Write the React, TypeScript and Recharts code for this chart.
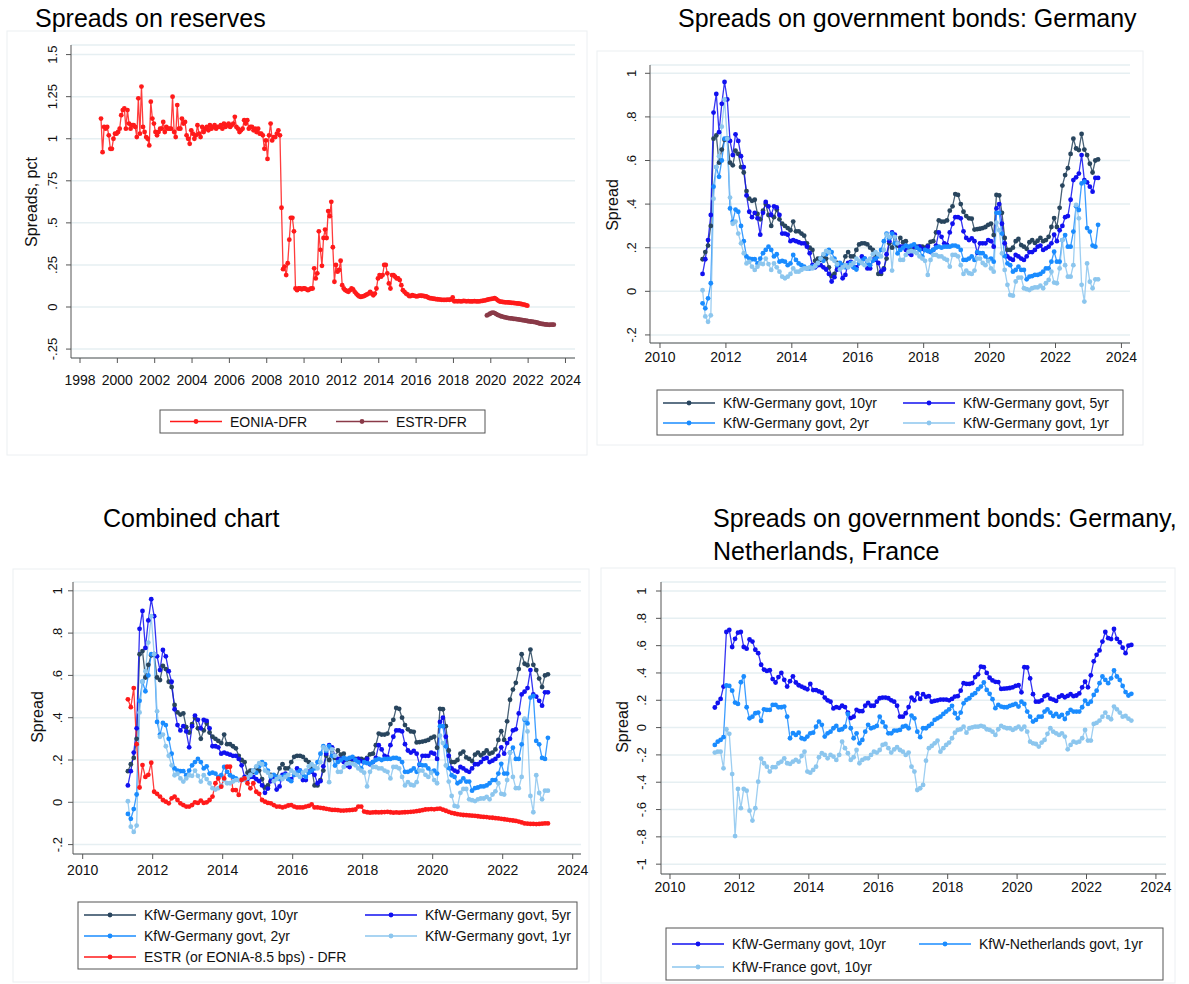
import { LineChart, Line, XAxis, YAxis, CartesianGrid } from "recharts";

const W = 1189;
const H = 984;
const FONT = '"Liberation Sans", Arial, Helvetica, sans-serif';

const COLORS = {
  eonia: "#ff1a1a",
  estr: "#8a3a48",
  y10: "#28455e",
  y5: "#1010f0",
  y2: "#1a8cff",
  y1: "#8cc6ee",
};

// monthly observations, placed mid-month
const EONIA_START = 1999 + 1.5 / 12;
const ESTR_START = 2019 + 9.5 / 12;
const BOND_START = 2011 + 3.5 / 12;

const YEARS_FROM_1998 = [1998, 2000, 2002, 2004, 2006, 2008, 2010, 2012, 2014, 2016, 2018, 2020, 2022, 2024];
const YEARS_FROM_2010 = [2010, 2012, 2014, 2016, 2018, 2020, 2022, 2024];
const RESERVE_TICKS = [-0.25, 0, 0.25, 0.5, 0.75, 1, 1.25, 1.5];
const SPREAD_TICKS = [-0.2, 0, 0.2, 0.4, 0.6, 0.8, 1];
const WIDE_TICKS = [-1, -0.8, -0.6, -0.4, -0.2, 0, 0.2, 0.4, 0.6, 0.8, 1];

// EONIA - DFR, Feb 1999 .. Dec 2021
const EONIA_DFR = [
  1.12, 0.92, 1.07, 1.06, 1.07, 1.02, 0.94, 0.94, 1.0, 1.03, 1.03, 1.04,
  1.06, 1.14, 1.17, 1.18, 1.06, 1.17, 1.09, 1.06, 1.08, 1.08, 1.07, 1.01,
  1.24, 1.03, 1.31, 1.07, 1.04, 1.01, 1.0, 0.96, 1.22, 1.12, 1.09, 1.04,
  1.02, 1.04, 1.06, 1.06, 1.1, 1.04, 1.07, 1.06, 1.06, 1.06, 1.25, 1.04,
  1.01, 1.2, 1.06, 1.06, 1.12, 1.09, 1.1, 1.02, 1.0, 0.97, 1.05, 1.03,
  1.0, 1.02, 1.08, 1.03, 1.01, 1.07, 1.04, 1.06, 1.07, 1.05, 1.08, 1.06,
  1.07, 1.08, 1.06, 1.07, 1.07, 1.08, 1.06, 1.09, 1.07, 1.08, 1.09, 1.07,
  1.08, 1.09, 1.13, 1.07, 1.06, 1.04, 1.05, 1.06, 1.11, 1.09, 1.11, 1.06,
  1.07, 1.07, 1.05, 1.06, 1.04, 1.06, 1.03, 1.03, 1.02, 0.94, 0.99, 0.88,
  1.02, 1.09, 0.99, 1.01, 1.01, 1.03, 1.05, 1.02, 0.59, 0.225, 0.24, 0.19,
  0.26, 0.4, 0.53, 0.53, 0.45, 0.11, 0.1, 0.11, 0.11, 0.105, 0.11, 0.11,
  0.105, 0.1, 0.105, 0.11, 0.11, 0.23, 0.17, 0.2, 0.45, 0.34, 0.245, 0.41,
  0.46, 0.41, 0.57, 0.54, 0.625, 0.355, 0.15, 0.25, 0.21, 0.22, 0.275, 0.13,
  0.11, 0.1, 0.095, 0.09, 0.1, 0.11, 0.105, 0.09, 0.08, 0.07, 0.063, 0.06,
  0.063, 0.065, 0.07, 0.075, 0.08, 0.09, 0.08, 0.07, 0.08, 0.11, 0.17, 0.19,
  0.18, 0.19, 0.25, 0.25, 0.2, 0.14, 0.11, 0.19, 0.19, 0.18, 0.17, 0.17,
  0.16, 0.13, 0.1, 0.09, 0.08, 0.075, 0.065, 0.065, 0.07, 0.068, 0.065, 0.063,
  0.066, 0.068, 0.067, 0.066, 0.064, 0.063, 0.058, 0.053, 0.052, 0.05, 0.049, 0.047,
  0.046, 0.045, 0.044, 0.043, 0.043, 0.042, 0.043, 0.044, 0.043, 0.045, 0.057, 0.034,
  0.035, 0.034, 0.035, 0.034, 0.034, 0.036, 0.035, 0.034, 0.035, 0.034, 0.033, 0.034,
  0.035, 0.034, 0.033, 0.034, 0.035, 0.036, 0.038, 0.04, 0.042, 0.045, 0.047, 0.048,
  0.05, 0.053, 0.047, 0.04, 0.034, 0.032, 0.03, 0.029, 0.028, 0.028, 0.027, 0.026,
  0.025, 0.024, 0.023, 0.022, 0.021, 0.02, 0.018, 0.016, 0.014, 0.011, 0.008,
];

// ESTR - DFR, Oct 2019 .. May 2023
const ESTR_DFR = [
  -0.05, -0.045, -0.04, -0.035, -0.033, -0.036, -0.042, -0.047, -0.051, -0.055, -0.057, -0.06,
  -0.062, -0.064, -0.066, -0.067, -0.068, -0.07, -0.07, -0.072, -0.073, -0.075, -0.077, -0.078,
  -0.08, -0.081, -0.083, -0.085, -0.086, -0.087, -0.088, -0.09, -0.092, -0.095, -0.098, -0.1,
  -0.101, -0.103, -0.104, -0.105, -0.106, -0.105, -0.105, -0.105,
];

// KfW - Germany govt spreads, Apr 2011 .. Apr 2023
const KFW_10Y = [
  0.147, 0.18, 0.21, 0.3, 0.7, 0.715, 0.59, 0.65, 0.695, 0.7, 0.59, 0.578,
  0.645, 0.63, 0.57, 0.545, 0.46, 0.425, 0.415, 0.42, 0.355, 0.33, 0.37, 0.4,
  0.35, 0.3, 0.34, 0.375, 0.33, 0.31, 0.3, 0.29, 0.28, 0.32, 0.275, 0.275,
  0.265, 0.255, 0.22, 0.2, 0.19, 0.14, 0.15, 0.145, 0.16, 0.15, 0.11, 0.07,
  0.08, 0.13, 0.12, 0.12, 0.16, 0.18, 0.16, 0.16, 0.19, 0.215, 0.22, 0.22,
  0.215, 0.2, 0.19, 0.16, 0.08, 0.08, 0.105, 0.15, 0.22, 0.2, 0.25, 0.21,
  0.245, 0.225, 0.23, 0.19, 0.195, 0.2, 0.205, 0.205, 0.205, 0.2, 0.21, 0.227,
  0.23, 0.27, 0.325, 0.32, 0.32, 0.325, 0.37, 0.39, 0.446, 0.442, 0.4, 0.365,
  0.345, 0.335, 0.333, 0.283, 0.285, 0.287, 0.29, 0.295, 0.305, 0.31, 0.258, 0.442,
  0.44, 0.36, 0.245, 0.19, 0.19, 0.2, 0.23, 0.24, 0.212, 0.205, 0.195, 0.225,
  0.235, 0.222, 0.232, 0.245, 0.23, 0.235, 0.25, 0.295, 0.336, 0.295, 0.383, 0.485,
  0.533, 0.565, 0.63, 0.7, 0.655, 0.648, 0.722, 0.65, 0.625, 0.585, 0.545, 0.6,
  0.605,
];
const KFW_5Y = [
  0.08, 0.147, 0.235, 0.35, 0.82, 0.905, 0.73, 0.86, 0.96, 0.88, 0.69, 0.625,
  0.72, 0.69, 0.62, 0.57, 0.44, 0.365, 0.34, 0.36, 0.335, 0.26, 0.36, 0.41,
  0.39, 0.35, 0.39, 0.385, 0.35, 0.265, 0.265, 0.26, 0.23, 0.235, 0.23, 0.225,
  0.22, 0.22, 0.205, 0.175, 0.12, 0.11, 0.12, 0.12, 0.11, 0.1, 0.08, 0.045,
  0.065, 0.1, 0.11, 0.06, 0.075, 0.13, 0.135, 0.11, 0.11, 0.13, 0.16, 0.15,
  0.105, 0.105, 0.145, 0.145, 0.13, 0.09, 0.1, 0.17, 0.23, 0.27, 0.26, 0.22,
  0.205, 0.205, 0.19, 0.175, 0.167, 0.205, 0.2, 0.205, 0.195, 0.19, 0.205, 0.18,
  0.19, 0.21, 0.27, 0.25, 0.22, 0.213, 0.27, 0.31, 0.34, 0.34, 0.335, 0.275,
  0.245, 0.235, 0.243, 0.23, 0.177, 0.22, 0.22, 0.22, 0.235, 0.23, 0.205, 0.38,
  0.4, 0.31, 0.22, 0.16, 0.15, 0.144, 0.167, 0.16, 0.15, 0.144, 0.16, 0.18,
  0.18, 0.19, 0.205, 0.21, 0.19, 0.197, 0.205, 0.22, 0.26, 0.23, 0.28, 0.3,
  0.34, 0.345, 0.42, 0.51, 0.523, 0.54, 0.625, 0.51, 0.5, 0.48, 0.457, 0.52,
  0.52,
];
const KFW_2Y = [
  -0.055, -0.078, -0.032, 0.037, 0.48, 0.57, 0.525, 0.6, 0.7, 0.7, 0.38, 0.32,
  0.375, 0.365, 0.3, 0.23, 0.16, 0.15, 0.147, 0.147, 0.128, 0.15, 0.175, 0.19,
  0.205, 0.19, 0.16, 0.17, 0.136, 0.14, 0.136, 0.12, 0.128, 0.167, 0.144, 0.128,
  0.12, 0.113, 0.105, 0.105, 0.113, 0.116, 0.128, 0.15, 0.14, 0.17, 0.19, 0.18,
  0.15, 0.12, 0.13, 0.12, 0.11, 0.12, 0.13, 0.11, 0.1, 0.13, 0.14, 0.15,
  0.13, 0.12, 0.14, 0.15, 0.16, 0.19, 0.23, 0.265, 0.243, 0.265, 0.22, 0.174,
  0.19, 0.2, 0.21, 0.205, 0.21, 0.215, 0.2, 0.19, 0.16, 0.19, 0.185, 0.182,
  0.19, 0.2, 0.205, 0.2, 0.205, 0.205, 0.205, 0.21, 0.21, 0.205, 0.19, 0.144,
  0.144, 0.15, 0.16, 0.144, 0.18, 0.175, 0.175, 0.16, 0.144, 0.15, 0.136, 0.36,
  0.36, 0.265, 0.162, 0.128, 0.12, 0.09, 0.098, 0.113, 0.098, 0.098, 0.055, 0.067,
  0.07, 0.075, 0.075, 0.08, 0.09, 0.105, 0.105, 0.136, 0.182, 0.136, 0.136, 0.235,
  0.258, 0.205, 0.205, 0.274, 0.39, 0.373, 0.495, 0.503, 0.29, 0.274, 0.21, 0.205,
  0.305,
];
const KFW_1Y = [
  0.005, -0.115, -0.14, -0.11, 0.425, 0.57, 0.62, 0.755, 0.88, 0.7, 0.43, 0.31,
  0.32, 0.265, 0.22, 0.175, 0.128, 0.135, 0.113, 0.098, 0.113, 0.128, 0.125, 0.15,
  0.125, 0.098, 0.128, 0.11, 0.09, 0.067, 0.06, 0.067, 0.08, 0.105, 0.09, 0.09,
  0.098, 0.105, 0.105, 0.11, 0.105, 0.115, 0.13, 0.15, 0.17, 0.185, 0.18, 0.15,
  0.14, 0.125, 0.1, 0.11, 0.12, 0.11, 0.12, 0.13, 0.15, 0.14, 0.13, 0.12,
  0.14, 0.15, 0.17, 0.18, 0.17, 0.16, 0.19, 0.26, 0.25, 0.095, 0.25, 0.22,
  0.144, 0.144, 0.167, 0.182, 0.185, 0.182, 0.175, 0.16, 0.15, 0.14, 0.075, 0.144,
  0.167, 0.167, 0.16, 0.16, 0.15, 0.144, 0.113, 0.167, 0.167, 0.16, 0.12, 0.08,
  0.095, 0.083, 0.08, 0.095, 0.15, 0.15, 0.13, 0.12, 0.14, 0.105, 0.09, 0.315,
  0.28, 0.174, 0.098, 0.03, -0.017, -0.02, 0.045, 0.063, 0.063, 0.014, 0.01, 0.006,
  0.014, 0.018, 0.018, 0.026, 0.014, 0.037, 0.052, 0.09, 0.04, 0.037, 0.105, 0.235,
  0.12, 0.067, 0.067, 0.12, 0.396, 0.335, 0.03, -0.047, 0.128, 0.044, 0.014, 0.055,
  0.055,
];

// KfW - Netherlands govt 1yr and KfW - France govt 10yr, Apr 2011 .. Apr 2023
const KFW_NL_1Y = [
  -0.127, -0.103, -0.09, -0.07, 0.308, 0.305, 0.27, 0.183, 0.173, 0.332, 0.374, 0.149,
  0.068, 0.08, 0.105, 0.11, 0.049, 0.134, 0.129, 0.129, 0.166, 0.166, 0.149, 0.149,
  0.154, 0.08, -0.078, -0.04, -0.054, -0.037, -0.078, -0.085, -0.066, -0.042, -0.037, 0.007,
  0.044, 0.02, -0.066, -0.042, -0.03, -0.005, 0.012, -0.017, -0.012, 0.007, 0.1, -0.005,
  -0.078, -0.042, -0.115, -0.09, -0.03, 0.02, -0.005, 0.002, 0.012, 0.08, 0.04, 0.007,
  -0.042, -0.042, -0.022, -0.022, -0.017, 0.007, 0.012, -0.005, 0.088, 0.068, -0.03, -0.07,
  -0.005, -0.005, 0.012, 0.027, 0.056, 0.068, 0.08, 0.1, 0.117, 0.134, 0.159, 0.105,
  0.068, 0.11, 0.178, 0.203, 0.215, 0.239, 0.252, 0.281, 0.3, 0.33, 0.276, 0.247,
  0.208, 0.142, 0.166, 0.154, 0.149, 0.149, 0.159, 0.166, 0.173, 0.154, 0.19, 0.173,
  0.117, 0.08, 0.044, 0.056, 0.08, 0.08, 0.117, 0.134, 0.11, 0.085, 0.1, 0.08,
  0.093, 0.063, 0.105, 0.13, 0.117, 0.117, 0.117, 0.149, 0.198, 0.173, 0.19, 0.239,
  0.27, 0.325, 0.374, 0.349, 0.325, 0.361, 0.418, 0.374, 0.349, 0.305, 0.26, 0.235,
  0.247,
];
const KFW_FR_10Y = [
  -0.183, -0.176, -0.176, -0.298, -0.012, -0.046, -0.34, -0.794, -0.449, -0.59, -0.449, -0.462,
  -0.608, -0.681, -0.59, -0.396, -0.227, -0.261, -0.286, -0.322, -0.29, -0.29, -0.261, -0.249,
  -0.225, -0.261, -0.266, -0.249, -0.237, -0.249, -0.208, -0.176, -0.322, -0.33, -0.31, -0.286,
  -0.217, -0.188, -0.2, -0.225, -0.2, -0.212, -0.237, -0.2, -0.103, -0.151, -0.188, -0.237,
  -0.217, -0.164, -0.261, -0.237, -0.225, -0.225, -0.2, -0.176, -0.183, -0.164, -0.127, -0.12,
  -0.151, -0.183, -0.16, -0.144, -0.164, -0.176, -0.2, -0.183, -0.286, -0.322, -0.457, -0.444,
  -0.42, -0.242, -0.151, -0.134, -0.115, -0.095, -0.176, -0.151, -0.127, -0.11, -0.078, -0.037,
  -0.017, -0.012, 0.007, -0.037, -0.005, 0.002, 0.007, 0.007, 0.012, 0.007, -0.012, -0.017,
  -0.03, -0.054, -0.012, 0.012, 0.002, -0.005, -0.005, -0.017, -0.005, 0.007, -0.012, 0.007,
  -0.03, -0.103, -0.115, -0.12, -0.139, -0.11, -0.09, -0.046, -0.005, -0.03, -0.042, -0.054,
  -0.042, -0.066, -0.159, -0.127, -0.103, -0.11, -0.103, -0.078, -0.017, -0.095, -0.095, 0.027,
  0.035, 0.051, 0.08, 0.11, 0.076, 0.061, 0.154, 0.134, 0.11, 0.08, 0.085, 0.065,
  0.051,
];

// ESTR (or EONIA - 8.5 bps) - DFR, Apr 2011 .. Apr 2023
const ESTR_ADJ_DFR = [
  0.487, 0.45, 0.54, 0.275, 0.07, 0.176, 0.12, 0.13, 0.187, 0.05, 0.04, 0.027,
  0.011, 0.003, -0.005, 0.019, 0.027, 0.011, -0.005, -0.013, -0.02, -0.02, -0.013, 0.0,
  -0.003, 0.008, -0.003, 0.0, 0.011, 0.027, 0.09, 0.113, 0.074, 0.113, 0.168, 0.168,
  0.058, 0.058, 0.035, 0.106, 0.113, 0.09, 0.066, 0.09, 0.05, 0.04, 0.011, 0.003,
  -0.003, -0.005, -0.013, -0.02, -0.02, -0.024, -0.02, -0.015, -0.013, -0.02, -0.024, -0.024,
  -0.024, -0.02, -0.017, -0.01, -0.024, -0.024, -0.026, -0.028, -0.031, -0.033, -0.036, -0.036,
  -0.037, -0.039, -0.039, -0.038, -0.037, -0.036, -0.034, -0.02, -0.02, -0.044, -0.047, -0.049,
  -0.048, -0.047, -0.048, -0.047, -0.046, -0.045, -0.047, -0.049, -0.048, -0.049, -0.048, -0.047,
  -0.046, -0.045, -0.044, -0.042, -0.04, -0.037, -0.034, -0.033, -0.032, -0.033, -0.031, -0.03,
  -0.035, -0.04, -0.045, -0.05, -0.053, -0.056, -0.058, -0.06, -0.061, -0.062, -0.063, -0.064,
  -0.066, -0.068, -0.069, -0.07, -0.072, -0.073, -0.075, -0.076, -0.078, -0.08, -0.082, -0.084,
  -0.086, -0.088, -0.091, -0.095, -0.1, -0.101, -0.102, -0.102, -0.103, -0.102, -0.101, -0.1,
  -0.1,
];

type Row = { t: number; v: number };
type Series = { name: string; color: string; rows: Row[] };

const rowsFrom = (start: number, values: number[]): Row[] =>
  values.map((v, i) => ({ t: start + i / 12, v }));

// Stata style labels: .25, -.2
const fmt = (v: number) => {
  const s = String(Math.round(v * 100) / 100);
  return s.replace(/^0\./, ".").replace(/^-0\./, "-.");
};

type PanelProps = {
  plot: { left: number; right: number; top: number; bottom: number };
  xDomain: [number, number];
  yDomain: [number, number];
  xTicks: number[];
  yTicks: number[];
  series: Series[];
  yGap: number;
  xGap: number;
};

function Panel({ plot, xDomain, yDomain, xTicks, yTicks, series, yGap, xGap }: PanelProps) {
  const yTick = (p: any) => {
    const bx = p.x + 5 - yGap + 4.5;
    return (
      <text
        x={bx}
        y={p.y}
        transform={`rotate(-90 ${bx} ${p.y})`}
        textAnchor="middle"
        fontSize={13}
        fontFamily={FONT}
        fill="#111"
      >
        {fmt(p.payload.value)}
      </text>
    );
  };
  const xTick = (p: any) => (
    <text x={p.x} y={p.y - 5 + xGap + 5} textAnchor="middle" fontSize={14} fontFamily={FONT} fill="#111">
      {p.payload.value}
    </text>
  );
  return (
    <div style={{ position: "absolute", left: 0, top: 0 }}>
      <LineChart
        width={W}
        height={H}
        margin={{ left: plot.left - 40, right: W - plot.right, top: plot.top, bottom: H - plot.bottom - 30 }}
      >
        <CartesianGrid horizontal vertical={false} stroke="#e6eff2" strokeWidth={1.5} />
        <XAxis
          dataKey="t"
          type="number"
          domain={xDomain}
          ticks={xTicks}
          allowDataOverflow
          interval={0}
          height={30}
          tickSize={5}
          tickMargin={0}
          stroke="#555"
          tick={xTick}
        />
        <YAxis
          type="number"
          domain={yDomain}
          ticks={yTicks}
          allowDataOverflow
          interval={0}
          width={40}
          tickSize={5}
          tickMargin={0}
          stroke="#555"
          tick={yTick}
        />
        {series.map((s) => (
          <Line
            key={s.name}
            name={s.name}
            data={s.rows}
            dataKey="v"
            type="linear"
            stroke={s.color}
            strokeWidth={1.3}
            strokeOpacity={0.85}
            dot={{ r: 2.4, fill: s.color, stroke: "none" }}
            activeDot={false}
            isAnimationActive={false}
          />
        ))}
      </LineChart>
    </div>
  );
}

type LegendItem = { label: string; color: string; x: number; y: number };

function LegendBox({ x, y, w, h, items }: { x: number; y: number; w: number; h: number; items: LegendItem[] }) {
  return (
    <g>
      <rect x={x} y={y} width={w} height={h} fill="#fff" stroke="#555" strokeWidth={1} />
      {items.map((it) => (
        <g key={it.label}>
          <line x1={it.x} x2={it.x + 52} y1={it.y} y2={it.y} stroke={it.color} strokeWidth={1.4} />
          <circle cx={it.x + 26} cy={it.y} r={2.4} fill={it.color} />
          <text x={it.x + 60} y={it.y + 5} fontSize={14} fontFamily={FONT} fill="#111">
            {it.label}
          </text>
        </g>
      ))}
    </g>
  );
}

const AxisTitle = ({ x, y, text }: { x: number; y: number; text: string }) => (
  <text x={x} y={y} transform={`rotate(-90 ${x} ${y})`} textAnchor="middle" fontSize={16} fontFamily={FONT} fill="#111">
    {text}
  </text>
);

const Title = ({ x, y, text }: { x: number; y: number; text: string }) => (
  <text x={x} y={y} fontSize={25} fontFamily={FONT} fill="#000">
    {text}
  </text>
);

export default function App() {
  const eonia = rowsFrom(EONIA_START, EONIA_DFR);
  const estr = rowsFrom(ESTR_START, ESTR_DFR);
  const k10 = rowsFrom(BOND_START, KFW_10Y);
  const k5 = rowsFrom(BOND_START, KFW_5Y);
  const k2 = rowsFrom(BOND_START, KFW_2Y);
  const k1 = rowsFrom(BOND_START, KFW_1Y);
  const nl = rowsFrom(BOND_START, KFW_NL_1Y);
  const fr = rowsFrom(BOND_START, KFW_FR_10Y);
  const adj = rowsFrom(BOND_START, ESTR_ADJ_DFR);

  const germany: Series[] = [
    { name: "10yr", color: COLORS.y10, rows: k10 },
    { name: "5yr", color: COLORS.y5, rows: k5 },
    { name: "2yr", color: COLORS.y2, rows: k2 },
    { name: "1yr", color: COLORS.y1, rows: k1 },
  ];

  return (
    <div style={{ position: "absolute", left: 0, top: 0, width: W, height: H, background: "#fff", overflow: "hidden" }}>
      <svg width={W} height={H} style={{ position: "absolute", left: 0, top: 0 }}>
        <rect x={7} y={31} width={580} height={424} fill="none" stroke="#eceff2" />
        <rect x={597} y={51} width={546} height={394} fill="none" stroke="#eceff2" />
        <rect x={13} y={569} width={576} height={413} fill="none" stroke="#eceff2" />
        <rect x={601} y={568} width={574} height={415} fill="none" stroke="#eceff2" />
      </svg>

      <Panel
        plot={{ left: 71, right: 575, top: 45, bottom: 358 }}
        xDomain={[1997.518, 2024.51]}
        yDomain={[-0.303, 1.557]}
        xTicks={YEARS_FROM_1998}
        yTicks={RESERVE_TICKS}
        yGap={18}
        xGap={22}
        series={[
          { name: "EONIA-DFR", color: COLORS.eonia, rows: eonia },
          { name: "ESTR-DFR", color: COLORS.estr, rows: estr },
        ]}
      />
      <Panel
        plot={{ left: 650, right: 1130, top: 65, bottom: 343 }}
        xDomain={[2009.697, 2024.26]}
        yDomain={[-0.237, 1.038]}
        xTicks={YEARS_FROM_2010}
        yTicks={SPREAD_TICKS}
        yGap={18}
        xGap={14}
        series={germany}
      />
      <Panel
        plot={{ left: 73, right: 581, top: 582, bottom: 854 }}
        xDomain={[2009.723, 2024.237]}
        yDomain={[-0.2444, 1.0416]}
        xTicks={YEARS_FROM_2010}
        yTicks={SPREAD_TICKS}
        yGap={15}
        xGap={16}
        series={[...germany, { name: "ESTR adj", color: COLORS.eonia, rows: adj }]}
      />
      <Panel
        plot={{ left: 661, right: 1166, top: 582, bottom: 874 }}
        xDomain={[2009.741, 2024.29]}
        yDomain={[-1.072, 1.066]}
        xTicks={YEARS_FROM_2010}
        yTicks={WIDE_TICKS}
        yGap={19}
        xGap={13}
        series={[
          { name: "DE 10yr", color: COLORS.y5, rows: k10 },
          { name: "NL 1yr", color: COLORS.y2, rows: nl },
          { name: "FR 10yr", color: COLORS.y1, rows: fr },
        ]}
      />

      <svg width={W} height={H} style={{ position: "absolute", left: 0, top: 0, pointerEvents: "none" }}>
        <Title x={35} y={27} text="Spreads on reserves" />
        <Title x={678} y={27} text="Spreads on government bonds: Germany" />
        <Title x={103} y={527} text="Combined chart" />
        <Title x={713} y={527} text="Spreads on government bonds: Germany," />
        <Title x={713} y={560} text="Netherlands, France" />

        <AxisTitle x={37} y={202} text="Spreads, pct" />
        <AxisTitle x={618} y={205} text="Spread" />
        <AxisTitle x={43} y={717} text="Spread" />
        <AxisTitle x={628} y={727} text="Spread" />

        <LegendBox
          x={160}
          y={410}
          w={325}
          h={23}
          items={[
            { label: "EONIA-DFR", color: COLORS.eonia, x: 170, y: 421.5 },
            { label: "ESTR-DFR", color: COLORS.estr, x: 336, y: 421.5 },
          ]}
        />
        <LegendBox
          x={657}
          y={390}
          w={466}
          h={45}
          items={[
            { label: "KfW-Germany govt, 10yr", color: COLORS.y10, x: 663, y: 403 },
            { label: "KfW-Germany govt, 5yr", color: COLORS.y5, x: 903, y: 403 },
            { label: "KfW-Germany govt, 2yr", color: COLORS.y2, x: 663, y: 423 },
            { label: "KfW-Germany govt, 1yr", color: COLORS.y1, x: 903, y: 423 },
          ]}
        />
        <LegendBox
          x={78}
          y={902}
          w={499}
          h={67}
          items={[
            { label: "KfW-Germany govt, 10yr", color: COLORS.y10, x: 84, y: 915 },
            { label: "KfW-Germany govt, 5yr", color: COLORS.y5, x: 365, y: 915 },
            { label: "KfW-Germany govt, 2yr", color: COLORS.y2, x: 84, y: 936 },
            { label: "KfW-Germany govt, 1yr", color: COLORS.y1, x: 365, y: 936 },
            { label: "ESTR (or EONIA-8.5 bps) - DFR", color: COLORS.eonia, x: 84, y: 957 },
          ]}
        />
        <LegendBox
          x={666}
          y={928}
          w={497}
          h={52}
          items={[
            { label: "KfW-Germany govt, 10yr", color: COLORS.y5, x: 672, y: 944 },
            { label: "KfW-Netherlands govt, 1yr", color: COLORS.y2, x: 919, y: 944 },
            { label: "KfW-France govt, 10yr", color: COLORS.y1, x: 672, y: 967 },
          ]}
        />
      </svg>
    </div>
  );
}
